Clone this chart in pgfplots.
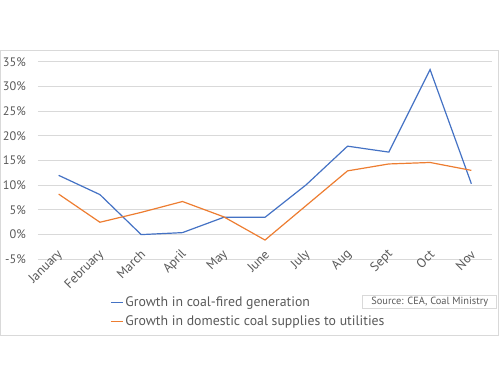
\documentclass[border=0pt]{standalone}
\usepackage{pgfplots}
\pgfplotsset{compat=1.18}
\usepackage{fontspec}
\setmainfont{PT Sans}
\definecolor{cblue}{RGB}{68,114,196}
\definecolor{corange}{RGB}{237,125,49}
\definecolor{txt}{RGB}{89,89,89}
\definecolor{gridc}{RGB}{217,217,217}
\begin{document}
\begin{tikzpicture}
\fontsize{13.5bp}{16bp}\selectfont
\begin{axis}[
  scale only axis,
  width=454bp, height=197.6bp,
  xmin=-0.5, xmax=10.5,
  ymin=-5, ymax=35,
  axis line style={draw=none},
  major tick length=0pt,
  xmajorgrids=false,
  ymajorgrids=true, grid style={draw=gridc, line width=0.9bp},
  ytick={-5,0,5,10,15,20,25,30,35},
  yticklabels={-5\%,0\%,5\%,10\%,15\%,20\%,25\%,30\%,35\%},
  xtick={0,...,10},
  xticklabels={January,February,March,April,May,June,July,Aug,Sept,Oct,Nov},
  xticklabel style={xshift=2bp, yshift=7bp, rotate=45, anchor=east, inner sep=0pt, font=\fontsize{13bp}{16bp}\selectfont, text=txt},
  yticklabel style={inner sep=0pt, xshift=-12bp, font=\fontsize{12.3bp}{14bp}\selectfont, text=txt},
  legend style={at={(0.1586,-0.178)}, anchor=north west, draw=none, fill=none,
    font=\fontsize{13.8bp}{16bp}\selectfont, text=txt, row sep=3bp, inner sep=0pt,
    /tikz/every even column/.append style={column sep=0pt}},
  legend cell align=left,
  legend image code/.code={\draw[#1, line width=1.2bp] (0bp,0bp) -- (12bp,0bp);},
  clip=false,
]
\addplot[cblue, line width=1.2bp] coordinates {
(0,12.0) (1,8.1) (2,0.0) (3,0.4) (4,3.5) (5,3.5) (6,10.1) (7,17.9) (8,16.7) (9,33.4) (10,10.3)};
\addlegendentry{Growth in coal-fired generation}
\addplot[corange, line width=1.2bp] coordinates {
(0,8.2) (1,2.5) (2,4.5) (3,6.7) (4,3.6) (5,-1.1) (6,5.9) (7,12.9) (8,14.3) (9,14.6) (10,13.0)};
\addlegendentry{Growth in domestic coal supplies to utilities}
\node[draw=gridc, line width=0.8bp, minimum width=134bp, minimum height=13bp, inner sep=0pt,
  font=\fontsize{10.4bp}{12bp}\selectfont, text=txt] at (axis description cs:0.863,-0.2136)
  {Source: CEA, Coal Ministry};
\end{axis}
\draw[gridc, line width=0.8bp] (-37.5bp,209.3bp) rectangle (460bp,-75.7bp);
\path[use as bounding box] (-38bp,-126.7bp) rectangle (462bp,259.3bp);
\end{tikzpicture}
\end{document}
